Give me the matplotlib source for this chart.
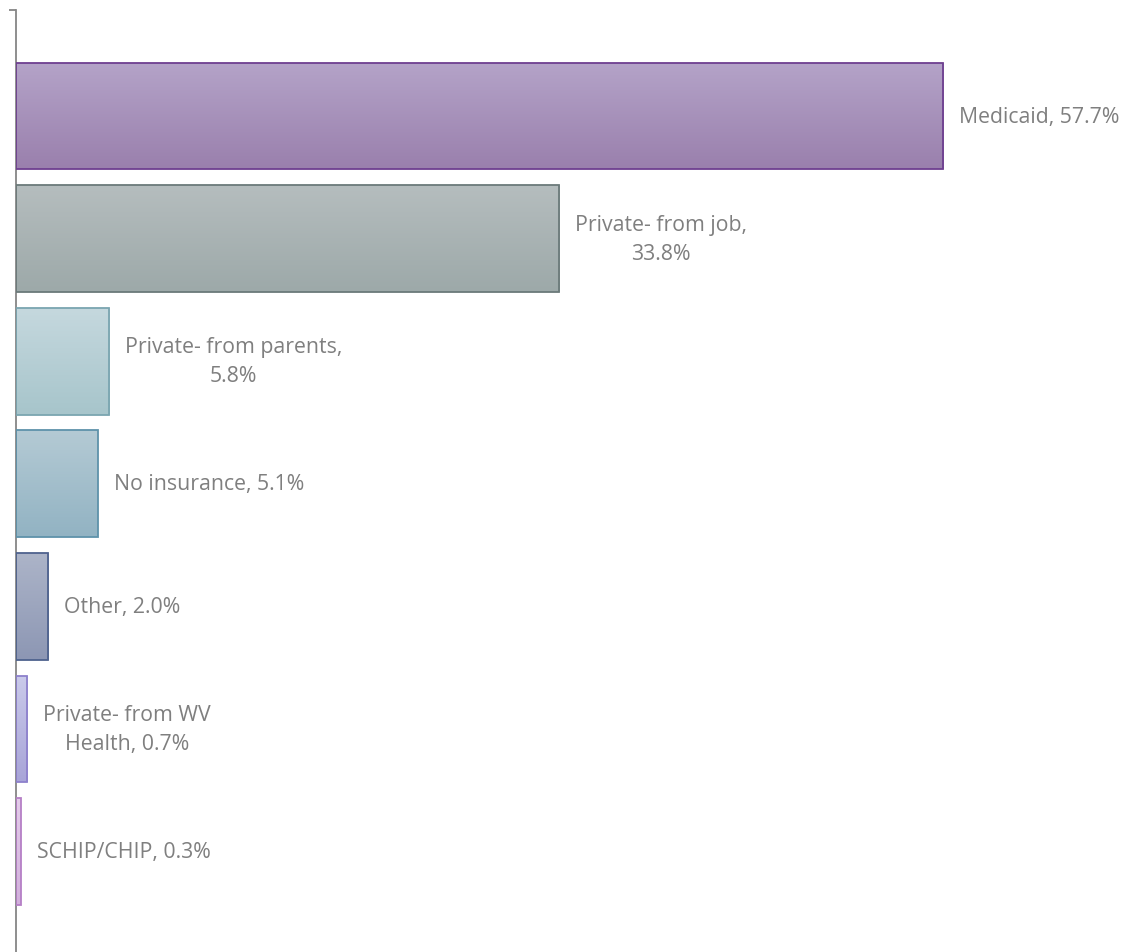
import numpy as np
import matplotlib
matplotlib.use("Agg")
import matplotlib.pyplot as plt
from matplotlib.colors import LinearSegmentedColormap

# ── data ──────────────────────────────────────────────────────────────────────
categories = ["Medicaid", "Private- from job", "Private- from parents",
              "No insurance", "Other", "Private- from WV Health", "SCHIP/CHIP"]
values = [57.7, 33.8, 5.8, 5.1, 2.0, 0.7, 0.3]
label_text = ["Medicaid, 57.7%", "Private- from job,\n33.8%",
              "Private- from parents,\n5.8%", "No insurance, 5.1%",
              "Other, 2.0%", "Private- from WV\nHealth, 0.7%",
              "SCHIP/CHIP, 0.3%"]

# (top colour, bottom colour, edge colour)
styles = [
    ("#B4A3C8", "#9A80AD", "#6E3F90"),
    ("#B5BDBE", "#9DA9A9", "#6B7A7A"),
    ("#C5D8DE", "#A7C5CB", "#7AA5B0"),
    ("#B4CAD4", "#92B3C3", "#5E92AA"),
    ("#ACB4C8", "#8D97B4", "#4E628E"),
    ("#CACAEA", "#A8A4D8", "#8D80CC"),
    ("#E4CCEA", "#D2B0DC", "#B57FC6"),
]

W, H = 1128, 953
fig = plt.figure(figsize=(W / 100, H / 100), dpi=100)
ax = fig.add_axes([16 / W, 0, 1 - 16 / W, (H - 11) / H])

y = np.arange(len(categories))
bars = ax.barh(y, values, height=0.87, color="none", zorder=3)

# gradient fill clipped to each bar
for b, (top, bot, edge) in zip(bars, styles):
    cmap = LinearSegmentedColormap.from_list("g", [top, bot])
    x0, y0 = b.get_x(), b.get_y()
    w, h = b.get_width(), b.get_height()
    grad = np.linspace(0, 1, 64).reshape(-1, 1)
    im = ax.imshow(grad, cmap=cmap, aspect="auto",
                   extent=(x0, x0 + w, y0 + h, y0), origin="upper", zorder=2)
    im.set_clip_path(b)
    b.set_edgecolor(edge)
    b.set_linewidth(1.3)

ax.set_xlim(0, 69.2)
ax.set_ylim(6.82, -0.865)

for b, txt in zip(bars, label_text):
    ax.annotate(txt, xy=(b.get_width(), b.get_y() + b.get_height() / 2),
                xytext=(11.5, 0), textcoords="offset points",
                ha="left", va="center", multialignment="center",
                fontsize=15.3, color="#7F7F7F", family="Open Sans",
                linespacing=1.5)

for s in ["top", "right", "bottom"]:
    ax.spines[s].set_visible(False)
ax.spines["left"].set_color("#868686")
ax.spines["left"].set_linewidth(1.3)
ax.set_xticks([])
ax.set_yticks([-0.865])
ax.set_yticklabels([""])
ax.tick_params(axis="y", length=5, width=1.3, color="#868686")

fig.savefig("out.png", dpi=100)
